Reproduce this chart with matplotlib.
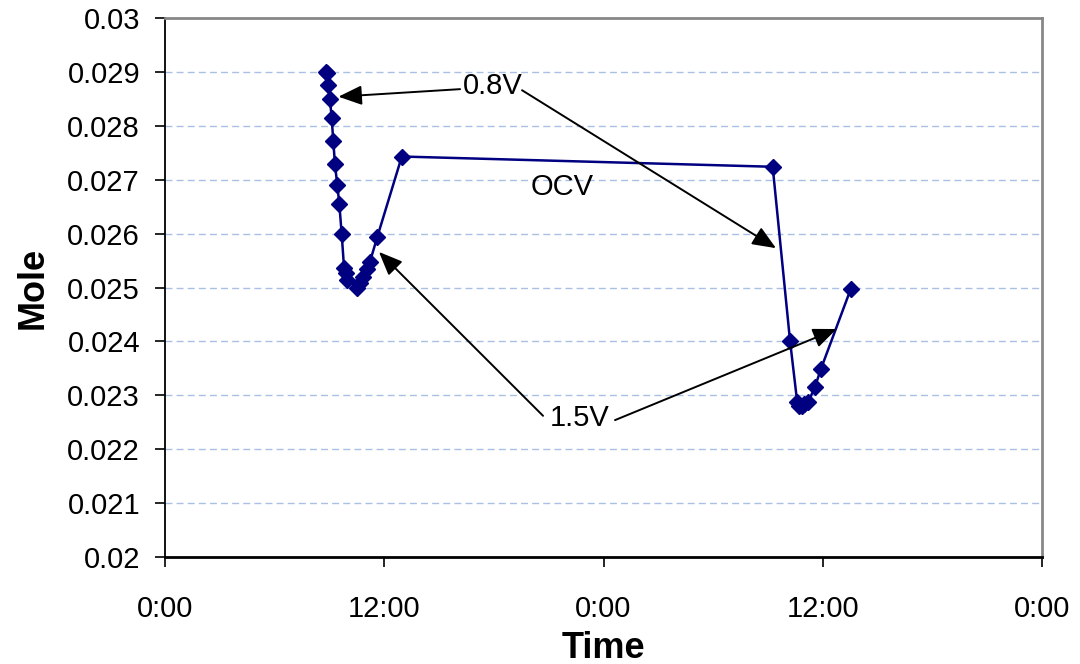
import matplotlib.pyplot as plt
import matplotlib.ticker as mtick
import numpy as np

plt.rcParams['font.family'] = ['Liberation Sans', 'DejaVu Sans']

# time in hours since start of day 1, mole values
hours = [8.80, 8.84, 8.94, 9.03, 9.12, 9.21, 9.30, 9.43, 9.54, 9.67, 9.80, 9.89,
         9.98, 10.53, 10.67, 10.85, 11.04, 11.22, 11.62, 12.96,
         33.26, 34.21, 34.60, 34.72, 34.85, 34.98, 35.21, 35.58, 35.89, 37.53]
mole = [0.02900, 0.02898, 0.02876, 0.02849, 0.02815, 0.02772, 0.02729, 0.02690,
        0.02655, 0.02599, 0.02536, 0.02526, 0.02514, 0.02499, 0.02508, 0.02520,
        0.02534, 0.02548, 0.02594, 0.02743,
        0.02724, 0.02401, 0.02288, 0.02280, 0.02281, 0.02283, 0.02288, 0.02316,
        0.02348, 0.02497]

labels = ["0.8V", "OCV", "1.5V"]
label_pos = [(17.95, 0.02874), (21.73, 0.02686), (22.71, 0.02258)]
arrow_tails = [(16.15, 0.02868), (19.54, 0.02866), (20.69, 0.02262), (24.63, 0.02254)]
arrow_tips = [(9.49, 0.02854), (33.44, 0.02573), (11.71, 0.02566), (36.76, 0.02423)]

fig = plt.figure(figsize=(10.8, 6.64), dpi=100)
ax = fig.add_axes([0.1528, 0.1611, 0.812, 0.8118])

ax.plot(hours, mole, color='#000080', lw=1.8, marker='D', markersize=8.5,
        markerfacecolor='#000080', markeredgecolor='#000080', zorder=3)

ax.set_xlim(0, 48)
ax.set_ylim(0.02, 0.03)
ax.set_xticks([0, 12, 24, 36, 48])
ax.xaxis.set_major_formatter(mtick.FuncFormatter(lambda v, p: f"{int(v) % 24}:00"))
ax.set_yticks(np.arange(0.02, 0.0301, 0.001))
ax.yaxis.set_major_formatter(mtick.FuncFormatter(lambda v, p: f"{round(v, 3):g}"))
ax.tick_params(axis='both', labelsize=21, direction='out', length=7, width=1.2, color='black')
ax.tick_params(axis='x', pad=20)
ax.tick_params(axis='y', pad=11)

ax.yaxis.grid(True, linestyle=(0, (5, 3)), color='#a9bfe3', lw=1)
ax.set_axisbelow(True)

ax.spines['bottom'].set_color('black')
ax.spines['bottom'].set_linewidth(2)
ax.spines['left'].set_color('black')
ax.spines['left'].set_linewidth(1.3)
for s in ['top', 'right']:
    ax.spines[s].set_color('#878787')
    ax.spines[s].set_linewidth(2)

ax.set_xlabel("Time", fontsize=26, fontweight='bold', labelpad=6)
ax.set_ylabel("Mole", fontsize=26, fontweight='bold', labelpad=12)

for txt, (x, y) in zip(labels, label_pos):
    ax.text(x, y, txt, fontsize=21, ha='center', va='center', zorder=4)

for tail, tip in zip(arrow_tails, arrow_tips):
    ax.annotate('', xy=tip, xytext=tail,
                arrowprops=dict(arrowstyle='-|>,head_length=0.6,head_width=0.25',
                                color='black', lw=1.4, mutation_scale=24,
                                shrinkA=0, shrinkB=0))

fig.savefig("out.png", dpi=100)
